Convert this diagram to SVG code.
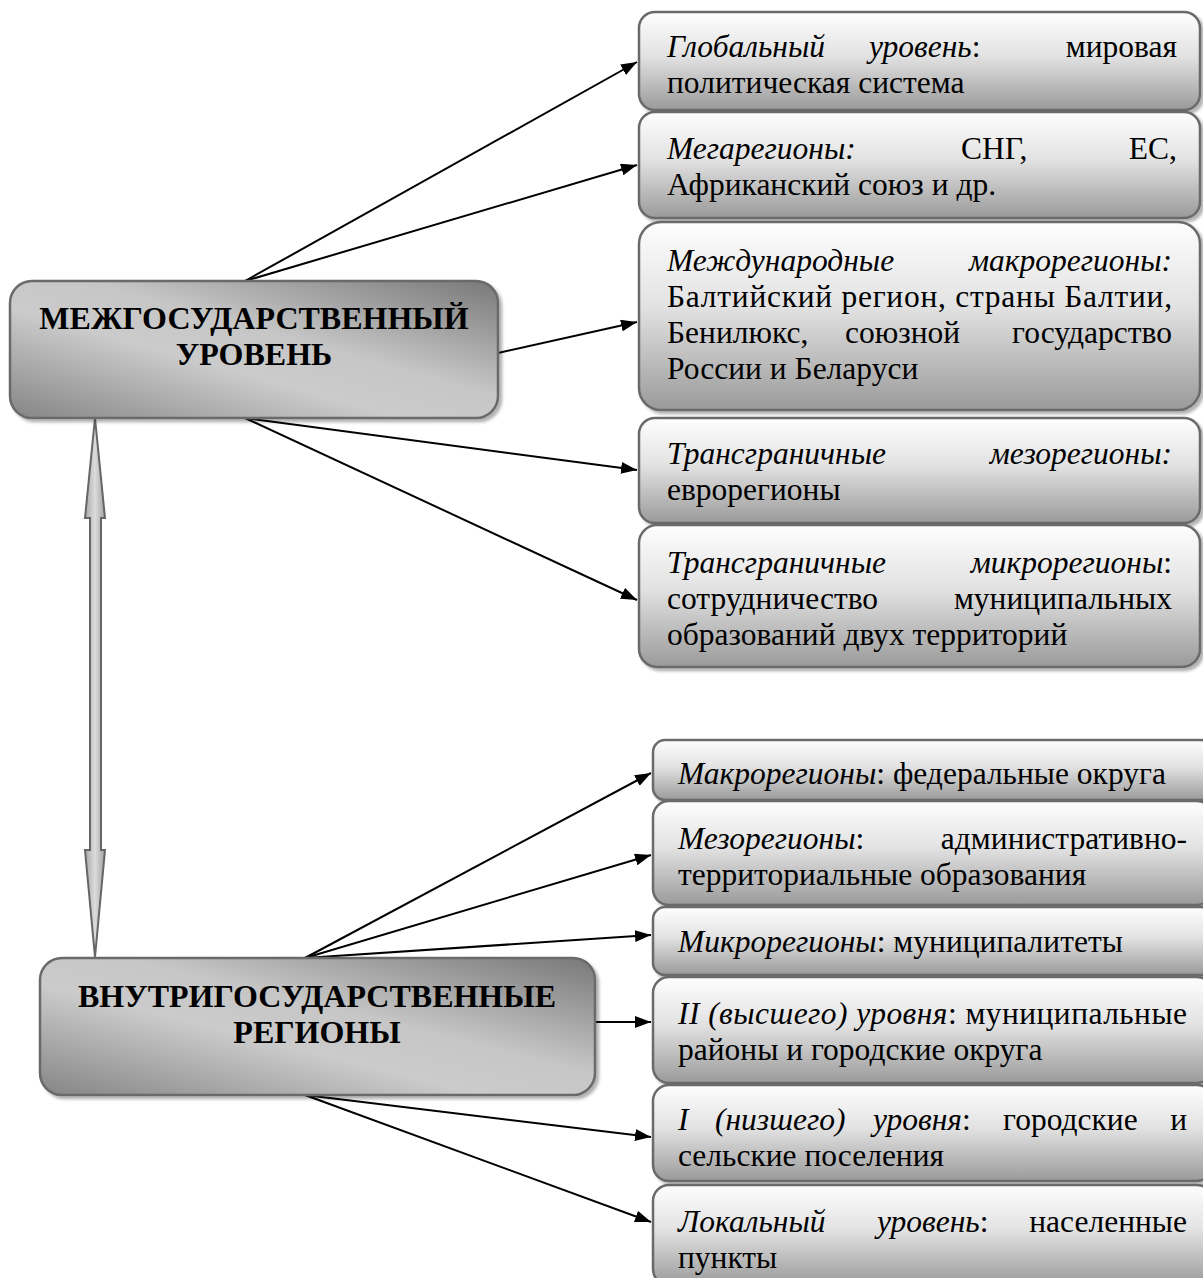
<svg xmlns="http://www.w3.org/2000/svg" width="1203" height="1278" viewBox="0 0 1203 1278">
<style>
.t{font-family:"Liberation Serif","Times New Roman",serif;font-size:31.5px;fill:#000}
.i{font-style:italic}
.h{font-family:"Liberation Serif","Times New Roman",serif;font-size:32px;font-weight:bold;fill:#000;text-anchor:middle}
.e{text-anchor:end}
.rb{fill:url(#gv);stroke:#6a6a6a;stroke-width:2.5;filter:url(#sh)}
.lb{fill:url(#gd);stroke:#6a6a6a;stroke-width:2.5;filter:url(#sh)}
.c{stroke:#000;stroke-width:2;fill:none;marker-end:url(#ah)}
</style>
<defs>
<linearGradient id="gv" x1="0" y1="0" x2="0" y2="1">
<stop offset="0" stop-color="#fefefe"/>
<stop offset="0.45" stop-color="#e2e2e2"/>
<stop offset="1" stop-color="#9a9a9a"/>
</linearGradient>
<linearGradient id="gd" x1="1" y1="0" x2="0" y2="1">
<stop offset="0" stop-color="#787878"/>
<stop offset="0.42" stop-color="#c6c6c6"/>
<stop offset="0.6" stop-color="#cbcbcb"/>
<stop offset="1" stop-color="#858585"/>
</linearGradient>
<linearGradient id="ga" x1="0" y1="0" x2="1" y2="0">
<stop offset="0" stop-color="#a8a8a8"/>
<stop offset="0.5" stop-color="#dcdcdc"/>
<stop offset="1" stop-color="#a0a0a0"/>
</linearGradient>
<filter id="sh" x="-5%" y="-5%" width="112%" height="120%">
<feDropShadow dx="3" dy="3" stdDeviation="1.5" flood-color="#000" flood-opacity="0.3"/>
</filter>
<marker id="ah" viewBox="0 0 16 12" refX="16" refY="6" markerWidth="16" markerHeight="12" markerUnits="userSpaceOnUse" orient="auto">
<path d="M0,0 L16,6 L0,12 Z" fill="#000"/>
</marker>
</defs>

<g id="connectors">
<line class="c" x1="245" y1="281" x2="637" y2="62"/>
<line class="c" x1="245" y1="281" x2="637" y2="165"/>
<line class="c" x1="498" y1="353" x2="637" y2="322"/>
<line class="c" x1="245" y1="418" x2="637" y2="470"/>
<line class="c" x1="245" y1="418" x2="637" y2="600"/>
<line class="c" x1="305" y1="958" x2="651" y2="773"/>
<line class="c" x1="305" y1="958" x2="651" y2="855"/>
<line class="c" x1="305" y1="958" x2="651" y2="935"/>
<line class="c" x1="595" y1="1022" x2="651" y2="1022"/>
<line class="c" x1="305" y1="1095" x2="651" y2="1137"/>
<line class="c" x1="305" y1="1095" x2="651" y2="1222"/>
<path id="dbl" d="M95,418 L105,518 L101,518 L101,850 L105,850 L95,957 L85,850 L90,850 L90,518 L85,518 Z" fill="url(#ga)" stroke="#666" stroke-width="2" stroke-linejoin="miter"/>
</g>

<g id="n-mezhgos">
<rect class="lb" x="10" y="281" width="488" height="137" rx="22"/>
<text class="h" x="254" y="329">МЕЖГОСУДАРСТВЕННЫЙ</text>
<text class="h" x="254" y="365">УРОВЕНЬ</text>
</g>

<g id="n-vnutri">
<rect class="lb" x="40" y="958" width="555" height="137" rx="22"/>
<text class="h" x="317" y="1007">ВНУТРИГОСУДАРСТВЕННЫЕ</text>
<text class="h" x="317" y="1043">РЕГИОНЫ</text>
</g>

<g id="n-global">
<rect class="rb" x="639" y="12" width="561" height="98" rx="16"/>
<text class="t i" x="667" y="57">Глобальный</text>
<text class="t" x="869" y="57"><tspan class="i">уровень</tspan>:</text>
<text class="t e" x="1177" y="57">мировая</text>
<text class="t" x="667" y="93">политическая система</text>
</g>

<g id="n-mega">
<rect class="rb" x="639" y="112" width="561" height="106" rx="16"/>
<text class="t i" x="667" y="159">Мегарегионы:</text>
<text class="t" x="961" y="159">СНГ,</text>
<text class="t e" x="1177" y="159">ЕС,</text>
<text class="t" x="667" y="195">Африканский союз и др.</text>
</g>

<g id="n-makro-int">
<rect class="rb" x="639" y="222" width="561" height="188" rx="22"/>
<text class="t i" x="667" y="271">Международные</text>
<text class="t i e" x="1172" y="271">макрорегионы:</text>
<text class="t" x="667" y="307" textLength="505" lengthAdjust="spacing">Балтийский регион, страны Балтии,</text>
<text class="t" x="667" y="343">Бенилюкс,</text>
<text class="t" x="845" y="343">союзной</text>
<text class="t e" x="1172" y="343">государство</text>
<text class="t" x="667" y="379">России и Беларуси</text>
</g>

<g id="n-mezo-tr">
<rect class="rb" x="639" y="418" width="561" height="105" rx="16"/>
<text class="t i" x="667" y="464">Трансграничные</text>
<text class="t i e" x="1172" y="464">мезорегионы:</text>
<text class="t" x="667" y="500">еврорегионы</text>
</g>

<g id="n-mikro-tr">
<rect class="rb" x="639" y="525" width="561" height="142" rx="18"/>
<text class="t i" x="667" y="573">Трансграничные</text>
<text class="t e" x="1172" y="573"><tspan class="i">микрорегионы</tspan>:</text>
<text class="t" x="667" y="609">сотрудничество</text>
<text class="t e" x="1172" y="609">муниципальных</text>
<text class="t" x="667" y="645">образований двух территорий</text>
</g>

<g id="n-makro">
<rect class="rb" x="653" y="740" width="560" height="60" rx="12"/>
<text class="t" x="678" y="784"><tspan class="i">Макрорегионы</tspan>: федеральные округа</text>
</g>

<g id="n-mezo">
<rect class="rb" x="653" y="801" width="560" height="104" rx="16"/>
<text class="t" x="678" y="849"><tspan class="i">Мезорегионы</tspan>:</text>
<text class="t e" x="1187" y="849">административно-</text>
<text class="t" x="678" y="885">территориальные образования</text>
</g>

<g id="n-mikro">
<rect class="rb" x="653" y="907" width="560" height="68" rx="12"/>
<text class="t" x="678" y="952"><tspan class="i">Микрорегионы</tspan>: муниципалитеты</text>
</g>

<g id="n-ii">
<rect class="rb" x="653" y="977" width="560" height="106" rx="16"/>
<text class="t" x="678" y="1024" textLength="509" lengthAdjust="spacing"><tspan class="i">II (высшего) уровня</tspan>: муниципальные</text>
<text class="t" x="678" y="1060">районы и городские округа</text>
</g>

<g id="n-i">
<rect class="rb" x="653" y="1085" width="560" height="96" rx="16"/>
<text class="t i" x="678" y="1130">I</text>
<text class="t i" x="715" y="1130">(низшего)</text>
<text class="t" x="873" y="1130"><tspan class="i">уровня</tspan>:</text>
<text class="t" x="1003" y="1130">городские</text>
<text class="t e" x="1187" y="1130">и</text>
<text class="t" x="678" y="1166">сельские поселения</text>
</g>

<g id="n-local">
<rect class="rb" x="653" y="1185" width="560" height="100" rx="16"/>
<text class="t i" x="678" y="1232">Локальный</text>
<text class="t" x="877" y="1232"><tspan class="i">уровень</tspan>:</text>
<text class="t e" x="1187" y="1232">населенные</text>
<text class="t" x="678" y="1268">пункты</text>
</g>
</svg>
